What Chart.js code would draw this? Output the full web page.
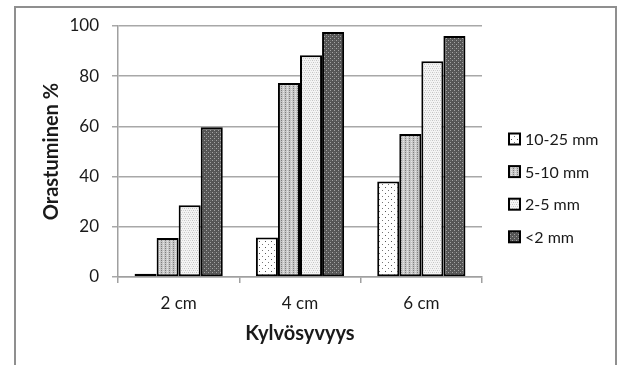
<!DOCTYPE html>
<html>
<head>
<meta charset="utf-8">
<script src="https://cdn.jsdelivr.net/npm/chart.js@4/dist/chart.umd.min.js"></script>
<style>
  html, body { margin: 0; padding: 0; background: #fff; }
  #wrap { width: 620px; height: 365px; position: relative; }
</style>
</head>
<body>
<div id="wrap"><canvas id="c" width="620" height="365"></canvas></div>
<script>
// Sowing depth categories
const categories = ['2 cm', '4 cm', '6 cm'];
// Seed size classes
const seriesNames = ['10-25 mm', '5-10 mm', '2-5 mm', '<2 mm'];
// Emergence (%) per size class
const size10to25 = [1.3, 15.7, 38.0];
const size5to10 = [15.5, 77.3, 57.0];
const size2to5 = [28.6, 88.3, 86.0];
const sizeUnder2 = [59.7, 97.6, 96.0];
// Y-axis ticks
const yTicks = [0, 20, 40, 60, 80, 100];

const FONT = 'Lato, "Open Sans", sans-serif';
const TEXT = '#1a1a1a';

// Small tiled fill patterns for the bars
function makePattern(size, bg, dots) {
  const cv = document.createElement('canvas');
  cv.width = size; cv.height = size;
  const g = cv.getContext('2d');
  g.fillStyle = bg;
  g.fillRect(0, 0, size, size);
  dots.forEach(([x, y, col]) => { g.fillStyle = col; g.fillRect(x, y, 1, 1); });
  return g.createPattern(cv, 'repeat');
}
const ctx = document.getElementById('c').getContext('2d');
const fills = [
  makePattern(6, '#ffffff', [[1, 1, '#555'], [4, 4, '#777']]),
  makePattern(4, '#c6c6c6', [[1, 0, '#7e7e7e'], [1, 2, '#7e7e7e'], [3, 1, '#e6e6e6'], [3, 3, '#e6e6e6']]),
  makePattern(4, '#f4f4f4', [[0, 0, '#c4c4c4'], [2, 0, '#d6d6d6'], [1, 2, '#c4c4c4'], [3, 2, '#d6d6d6']]),
  makePattern(4, '#555555', [[0, 0, '#a4a4a4'], [2, 2, '#a4a4a4'], [2, 0, '#6c6c6c']])
];
const values = [size10to25, size5to10, size2to5, sizeUnder2];

// Outer frame around the chart
const framePlugin = {
  id: 'frame',
  beforeDraw(chart) {
    const c = chart.ctx;
    c.save();
    c.strokeStyle = '#8f8f8f';
    c.lineWidth = 2;
    c.strokeRect(15, 7, 601, 380);
    c.restore();
  }
};

// Vertical legend at the right
const sideLegend = {
  id: 'sideLegend',
  afterDraw(chart) {
    const c = chart.ctx;
    c.save();
    c.font = '16px ' + FONT;
    c.textBaseline = 'middle';
    chart.data.datasets.forEach((ds, i) => {
      const cy = 139 + i * 32.6;
      const x = 509, s = 11;
      c.fillStyle = ds.backgroundColor;
      c.fillRect(x, cy - s / 2, s, s);
      c.strokeStyle = '#000';
      c.lineWidth = 2;
      c.strokeRect(x, cy - s / 2, s, s);
      c.fillStyle = TEXT;
      c.fillText(ds.label, 525, cy + 1);
    });
    c.restore();
  }
};

new Chart(ctx, {
  type: 'bar',
  data: {
    labels: categories,
    datasets: seriesNames.map((name, i) => ({
      label: name,
      data: values[i],
      backgroundColor: fills[i],
      borderColor: '#000',
      borderWidth: 2,
      borderSkipped: false,
      barPercentage: 1,
      categoryPercentage: 0.727
    }))
  },
  options: {
    responsive: false,
    animation: false,
    devicePixelRatio: 1,
    layout: { padding: { left: 14, right: 138, top: 26, bottom: 0 } },
    plugins: { legend: { display: false }, tooltip: { enabled: false } },
    scales: {
      x: {
        afterFit(scale) { scale.height = 88; },
        grid: { drawOnChartArea: false, drawTicks: true, tickLength: 6, color: '#a0a0a0', lineWidth: 1.5 },
        border: { color: '#a0a0a0', width: 1.5 },
        ticks: { color: TEXT, font: { family: FONT, size: 17 }, padding: 10 },
        title: { display: true, text: 'Kylvösyvyys', color: TEXT, font: { family: FONT, size: 20, weight: 'bold' }, padding: { top: 4, bottom: 19 } }
      },
      y: {
        min: 0, max: 100,
        afterFit(scale) { scale.width = 104; },
        afterBuildTicks(scale) { scale.ticks = yTicks.map(v => ({ value: v })); },
        grid: { color: '#a8a8a8', lineWidth: 1.5, tickLength: 6 },
        border: { color: '#a0a0a0', width: 1.5 },
        ticks: { color: TEXT, font: { family: FONT, size: 17 }, padding: 13 },
        title: { display: true, text: 'Orastuminen %', color: TEXT, font: { family: FONT, size: 20, weight: 'bold' }, padding: { top: 26, bottom: 4 } }
      }
    }
  },
  plugins: [framePlugin, sideLegend]
});
</script>
</body>
</html>
